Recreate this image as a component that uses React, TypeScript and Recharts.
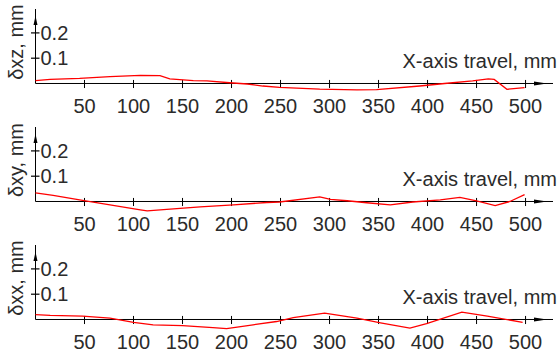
import React from 'react';
import { LineChart, Line, XAxis, YAxis, ReferenceLine } from 'recharts';

const xTicks = [50, 100, 150, 200, 250, 300, 350, 400, 450, 500];
const yTicks = [0.1, 0.2];
const xAxisTitle = 'X-axis travel, mm';

const xzTravel = [0, 15, 45, 76, 107, 127, 137, 161, 175, 198, 216, 232, 249, 290, 328, 348, 392, 420, 446, 462, 468, 481, 499];
const xzDev = [0.011, 0.016, 0.02, 0.027, 0.032, 0.031, 0.018, 0.011, 0.01, 0.003, -0.002, -0.01, -0.015, -0.022, -0.025, -0.024, -0.01, 0.001, 0.01, 0.018, 0.016, -0.023, -0.016];

const xyTravel = [0, 18, 48, 76, 107, 114, 134, 168, 202, 236, 249, 290, 301, 318, 338, 362, 385, 413, 433, 450, 469, 484, 499];
const xyDev = [0.034, 0.024, 0.004, -0.013, -0.033, -0.037, -0.031, -0.021, -0.013, -0.004, -0.002, 0.018, 0.008, 0.003, -0.005, -0.013, -0.002, 0.006, 0.016, 0.002, -0.016, 0, 0.027];

const xxTravel = [0, 15, 48, 76, 100, 120, 150, 181, 195, 222, 246, 263, 295, 328, 352, 382, 399, 435, 461, 497];
const xxDev = [0.019, 0.016, 0.013, 0.005, -0.011, -0.021, -0.024, -0.032, -0.036, -0.021, -0.008, 0.007, 0.025, 0.005, -0.013, -0.034, -0.016, 0.029, 0.013, -0.011];

const panelTitles = ['δxz, mm', 'δxy, mm', 'δxx, mm'];

const FONT = 'Arial, "Liberation Sans", sans-serif';
const TEXT = '#2b2b2b';
const X_DOMAIN: [number, number] = [0, 528];
const Y_DOMAIN: [number, number] = [-0.0455, 0.2945];

const build = (xs: number[], ys: number[]) => xs.map((x, i) => ({ x, y: ys[i] }));

const panels = [
  { title: panelTitles[0], data: build(xzTravel, xzDev) },
  { title: panelTitles[1], data: build(xyTravel, xyDev) },
  { title: panelTitles[2], data: build(xxTravel, xxDev) },
];

function XTick(props: any) {
  const { x, y, payload } = props;
  return (
    <text x={x} y={y + 18} textAnchor="middle" fontSize={20} fontFamily={FONT} fill={TEXT}>
      {payload.value}
    </text>
  );
}

function YTick(props: any) {
  const { x, y, payload } = props;
  return (
    <g>
      <line x1={x - 4.5} x2={x + 4} y1={y} y2={y} stroke="#000" strokeWidth={1.2} />
      <text x={x + 5} y={y} dy="0.36em" textAnchor="start" fontSize={20} fontFamily={FONT} fill={TEXT}>
        {payload.value}
      </text>
    </g>
  );
}

const makeXAxisShape = () => (props: any) => {
  const { x1, y1, x2 } = props;
  return (
    <g>
      <line x1={x1} y1={y1} x2={x2} y2={y1} stroke="#000" strokeWidth={1} />
      <polygon points={`${x2 - 19},${y1 - 2} ${x2 - 6},${y1} ${x2 - 19},${y1 + 2}`} fill="#000" />
      <text x={x2 + 4} y={y1 - 15} textAnchor="end" fontSize={20} fontFamily={FONT} fill={TEXT}>
        {xAxisTitle}
      </text>
    </g>
  );
};

const makeYAxisShape = (title: string) => (props: any) => {
  const { x1, y1, y2 } = props;
  const top = Math.min(y1, y2);
  const bottom = Math.max(y1, y2);
  const tx = x1 - 13;
  const ty = top + 33;
  return (
    <g>
      <line x1={x1} y1={bottom} x2={x1} y2={top} stroke="#000" strokeWidth={1} />
      <polygon points={`${x1 - 2},${top + 16} ${x1},${top + 7} ${x1 + 2},${top + 16}`} fill="#000" />
      <text
        x={tx}
        y={ty}
        transform={`rotate(-90 ${tx} ${ty})`}
        textAnchor="middle"
        fontSize={20}
        fontFamily={FONT}
        fill={TEXT}
      >
        {title}
      </text>
    </g>
  );
};

function Panel({ title, data }: { title: string; data: { x: number; y: number }[] }) {
  return (
    <LineChart width={560} height={118} data={data} margin={{ top: 9, right: 7, bottom: 0, left: 0 }}>
      <XAxis
        dataKey="x"
        type="number"
        domain={X_DOMAIN}
        ticks={xTicks}
        interval={0}
        axisLine={false}
        tickLine={false}
        tickSize={0}
        tickMargin={0}
        height={23}
        tick={<XTick />}
      />
      <YAxis
        type="number"
        domain={Y_DOMAIN}
        ticks={yTicks}
        interval={0}
        width={35.5}
        axisLine={false}
        tickLine={false}
        tickSize={0}
        tickMargin={0}
        tick={<YTick />}
      />
      <ReferenceLine y={0} shape={makeXAxisShape()} />
      <ReferenceLine
        segment={[{ x: 0, y: 0 }, { x: 0, y: Y_DOMAIN[1] }]}
        shape={makeYAxisShape(title)}
      />
      {xTicks.map((v) => (
        <ReferenceLine key={v} segment={[{ x: v, y: -0.018 }, { x: v, y: 0.014 }]} stroke="#000" strokeWidth={1} />
      ))}
      <Line
        type="linear"
        dataKey="y"
        stroke="#ff0000"
        strokeWidth={1.3}
        dot={false}
        activeDot={false}
        isAnimationActive={false}
      />
    </LineChart>
  );
}

export default function App() {
  return (
    <div style={{ position: 'absolute', left: 0, top: 0, width: 560, height: 360, background: '#fff' }}>
      {panels.map((p, i) => (
        <div key={i} style={{ position: 'absolute', left: 0, top: i * 118, width: 560, height: 118 }}>
          <Panel title={p.title} data={p.data} />
        </div>
      ))}
    </div>
  );
}
